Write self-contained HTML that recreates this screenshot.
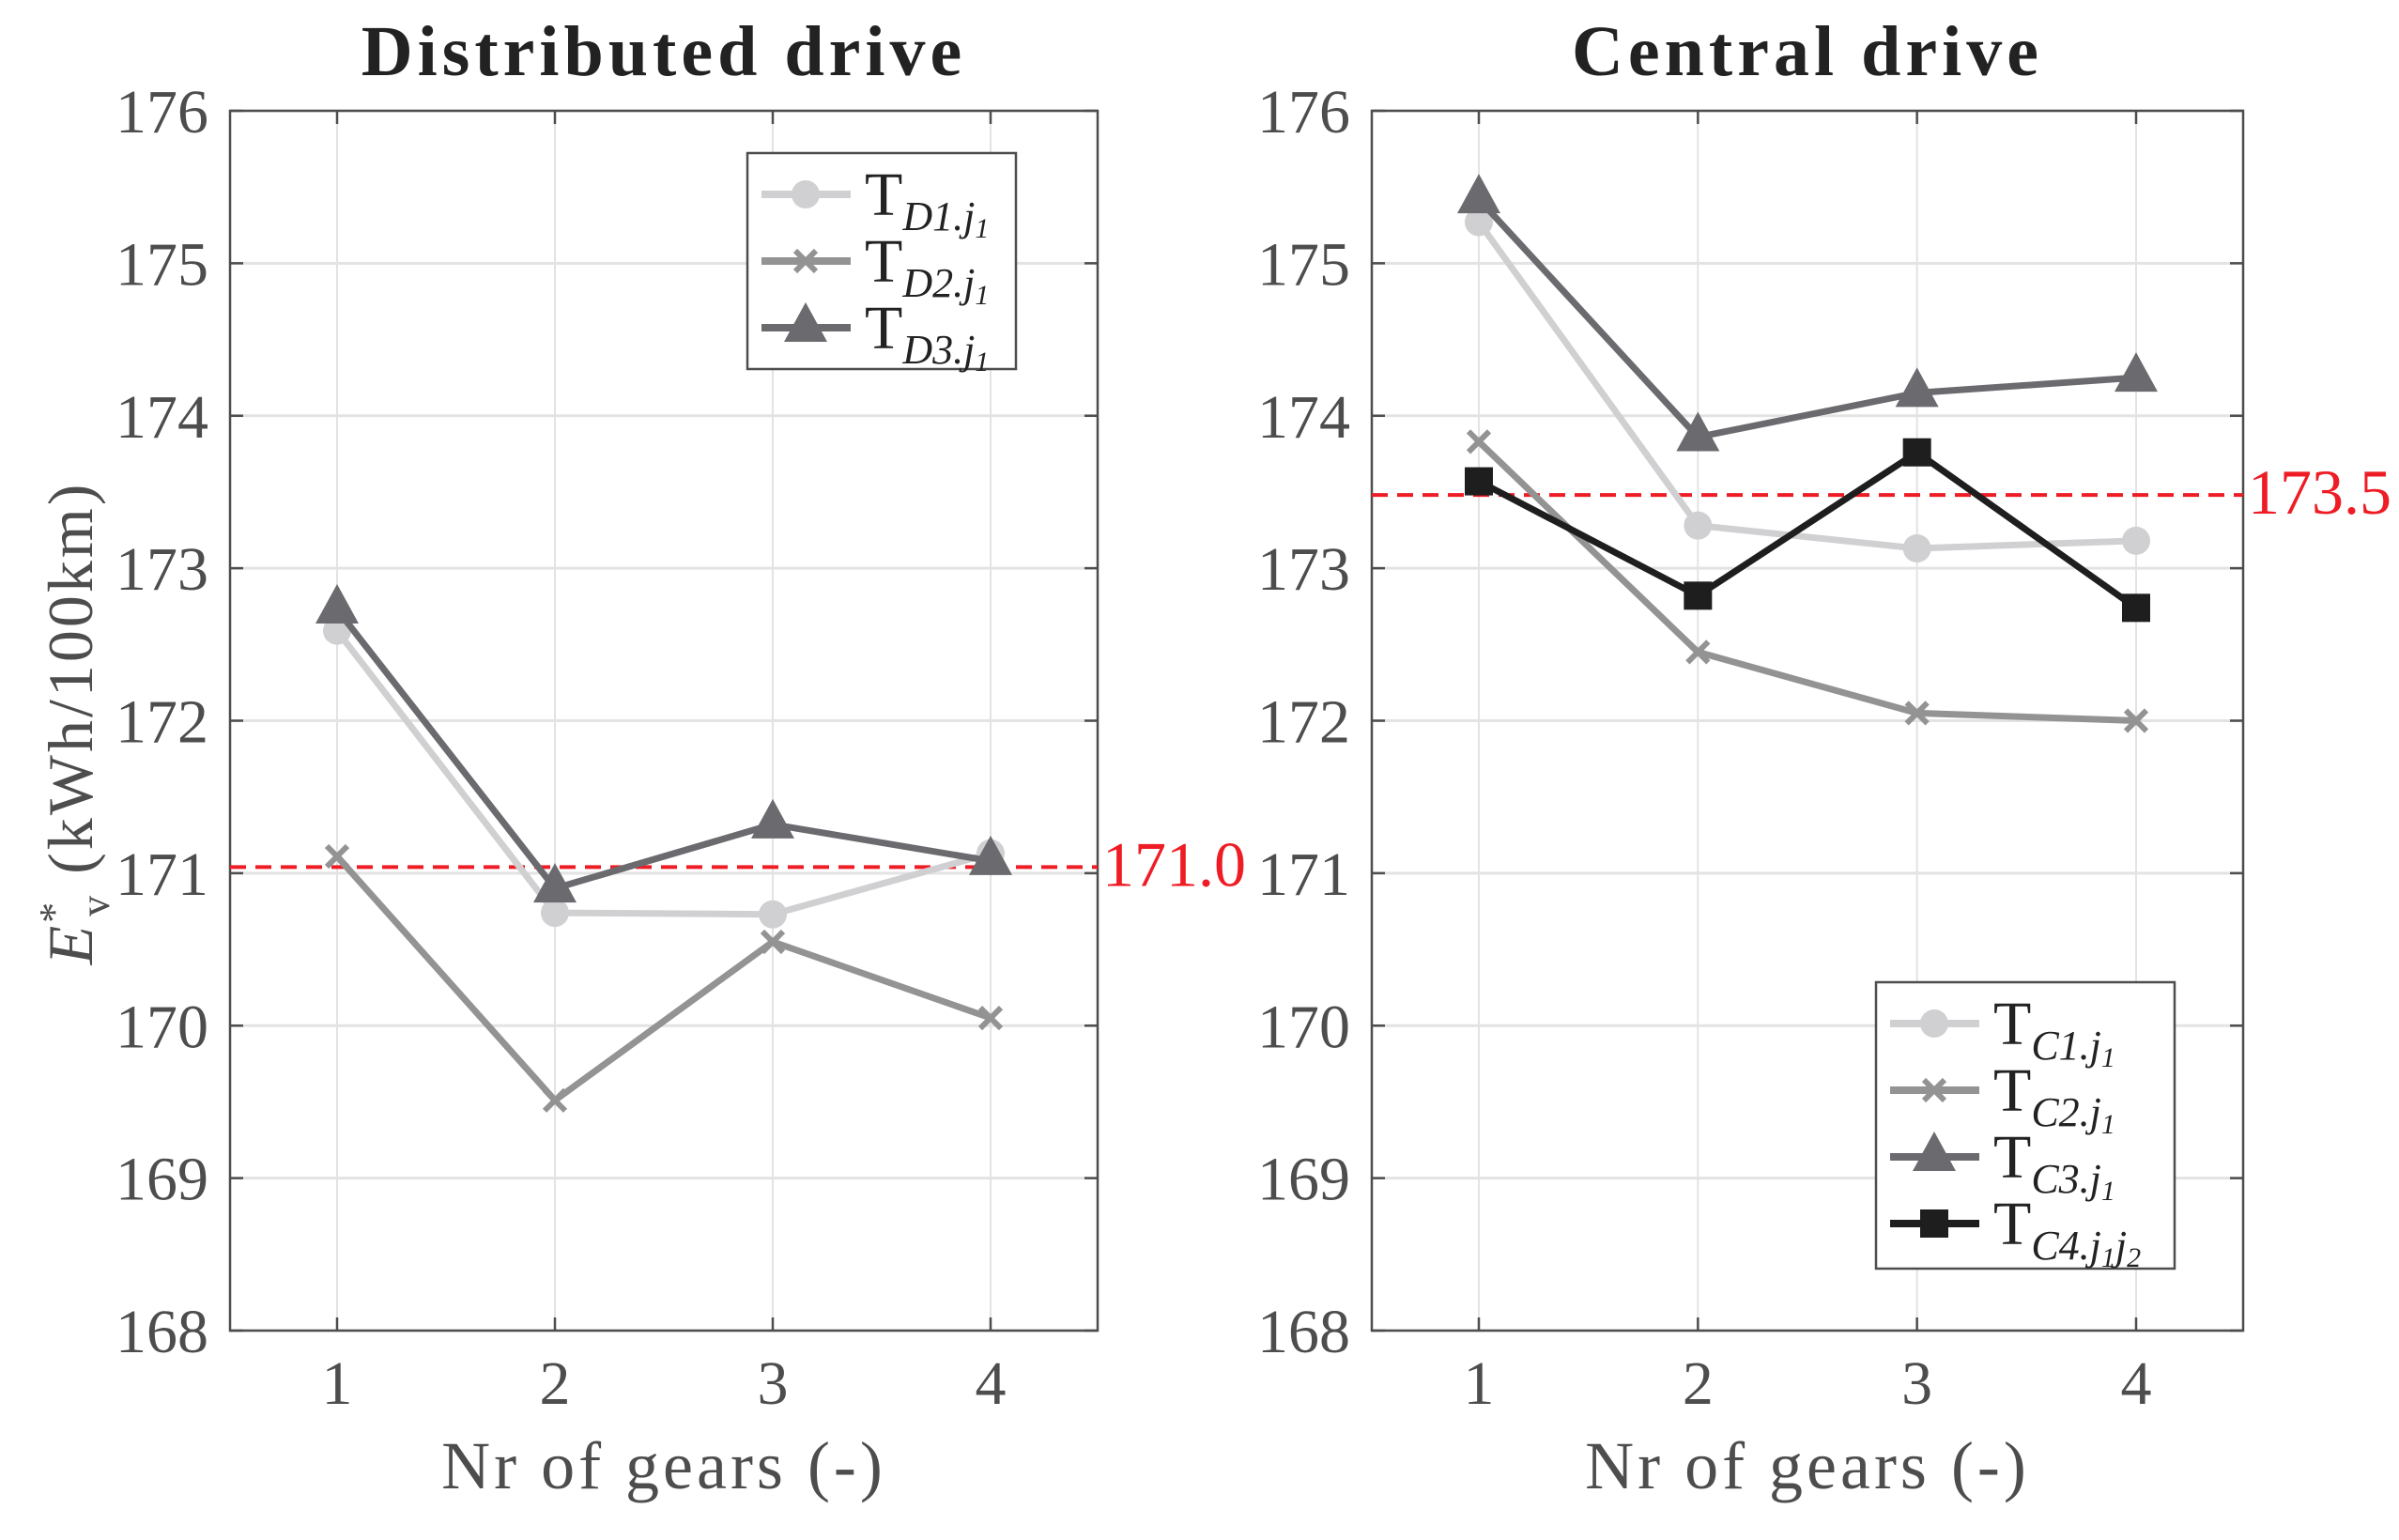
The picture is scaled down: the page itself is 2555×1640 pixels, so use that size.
<!DOCTYPE html>
<html><head><meta charset="utf-8"><style>
html,body{margin:0;padding:0;background:#fff;}
svg{display:block;font-family:"Liberation Serif","DejaVu Serif",serif;}
</style></head><body>
<svg id="chart" width="2555" height="1640" viewBox="0 0 2555 1640" xmlns="http://www.w3.org/2000/svg">
<g id="left"></g>
<g id="right"></g>
<text transform="translate(98,770) rotate(-90)" text-anchor="middle" font-size="68" letter-spacing="3" fill="#4d4d4d"><tspan font-style="italic">E</tspan><tspan font-size="44" dy="-26">*</tspan><tspan font-size="44" dx="-18" dy="44">v</tspan><tspan dy="-18"> (kWh/100km)</tspan></text>
</svg>
<script>
const gears = [1, 2, 3, 4];
const yTicks = [168, 169, 170, 171, 172, 173, 174, 175, 176];
const D1 = [172.59, 170.74, 170.73, 171.13];
const D2 = [171.11, 169.51, 170.55, 170.05];
const D3 = [172.73, 170.90, 171.32, 171.08];
const refD = [171.04];
const refDLabel = ["171.0"];
const C1 = [175.27, 173.28, 173.13, 173.18];
const C2 = [173.83, 172.45, 172.05, 172.00];
const C3 = [175.42, 173.86, 174.15, 174.25];
const C4 = [173.57, 172.82, 173.76, 172.74];
const refC = [173.48];
const refCLabel = ["173.5"];

const NS = "http://www.w3.org/2000/svg";
function mk(parent, tag, attrs, text) {
  const e = document.createElementNS(NS, tag);
  for (const k in attrs) e.setAttribute(k, attrs[k]);
  if (text !== undefined) e.textContent = text;
  parent.appendChild(e);
  return e;
}
const yTop = 118, yBot = 1417;
function yScale(v) { return yBot - (v - 168) / 8 * (yBot - yTop); }

function panel(g, x0, x1, title, series, ref, refLabel, legend) {
  const xs = v => x0 + 114 + (v - 1) * ((x1 - x0 - 228) / 3);
  yTicks.forEach(t => {
    const l = mk(g, "line", {x1: x0, x2: x1, y1: yScale(t), y2: yScale(t), stroke: "#e3e3e3", "stroke-width": 3});
    
    
    const tk = mk(g, "line", {x1: x0, x2: x0 + 14, y1: yScale(t), y2: yScale(t), stroke: "#4d4d4d", "stroke-width": 2.5});
    
    
    const tk2 = mk(g, "line", {x1: x1 - 14, x2: x1, y1: yScale(t), y2: yScale(t), stroke: "#4d4d4d", "stroke-width": 2.5});
    
    
    const lb = mk(g, "text", {x: x0 - 23, y: yScale(t) + 23, "text-anchor": "end", "font-size": 66, fill: "#4d4d4d"}, String(t));
    
    
  });
  gears.forEach(v => {
    const l = mk(g, "line", {x1: xs(v), x2: xs(v), y1: yTop, y2: yBot, stroke: "#e3e3e3", "stroke-width": 2});
    
    
    const tk = mk(g, "line", {x1: xs(v), x2: xs(v), y1: yBot - 14, y2: yBot, stroke: "#4d4d4d", "stroke-width": 2.5});
    
    
    const tk2 = mk(g, "line", {x1: xs(v), x2: xs(v), y1: yTop, y2: yTop + 14, stroke: "#4d4d4d", "stroke-width": 2.5});
    
    
    const lb = mk(g, "text", {x: xs(v), y: yBot + 78, "text-anchor": "middle", "font-size": 66, fill: "#4d4d4d"}, String(v));
    
    
  });
  const box = mk(g, "rect", {x: x0, y: yTop, width: x1 - x0, height: yBot - yTop, fill: "none", stroke: "#4d4d4d", "stroke-width": 2.5});
  
  
  const tt = mk(g, "text", {x: (x0 + x1) / 2, y: 80, "text-anchor": "middle", "font-size": 76, "letter-spacing": 5, "font-weight": "bold", fill: "#222"}, title);
  
  
  const xl = mk(g, "text", {x: (x0 + x1) / 2, y: 1585, "text-anchor": "middle", "font-size": 72, "letter-spacing": 4, fill: "#4d4d4d"}, "Nr of gears (-)");
  
  
  const rl = mk(g, "line", {x1: x0, x2: x1, y1: yScale(ref[0]), y2: yScale(ref[0]), stroke: "#ee1c24", "stroke-width": 4, "stroke-dasharray": "17 10"});
  
  
  const rt = mk(g, "text", {x: x1 + 5, y: yScale(ref[0]) + 20, "font-size": 68, fill: "#ee1c24"}, refLabel[0]);
  
  
  series.forEach(s => {
    const pts = s.data.map((v, i) => xs(gears[i]) + "," + yScale(v)).join(" ");
    const pl = mk(g, "polyline", {points: pts, fill: "none", stroke: s.color, "stroke-width": 7, "stroke-linejoin": "round"});
    
    
    s.data.forEach((v, i) => {
      const m = marker(g, s.marker, xs(gears[i]), yScale(v), s.color);
      
      
    });
  });
  const lg = mk(g, "g", {});
  
  
  const lr = mk(lg, "rect", {x: legend.x, y: legend.y, width: legend.w, height: legend.h, fill: "#fff", stroke: "#4d4d4d", "stroke-width": 2.5});
  
  
  series.forEach((s, i) => {
    const cy = legend.y + 44 + i * legend.step;
    const e = mk(lg, "g", {});
    
    
    mk(e, "line", {x1: legend.x + 15, x2: legend.x + 110, y1: cy, y2: cy, stroke: s.color, "stroke-width": 8});
    marker(e, s.marker, legend.x + 62, cy, s.color);
    const t = mk(e, "text", {x: legend.x + 125, y: cy + 22, "font-size": 66, fill: "#222"});
    mk(t, "tspan", {}, "T");
    mk(t, "tspan", {"font-size": 44, "font-style": "italic", dy: 16}, s.sub);
    if (s.sub2) mk(t, "tspan", {"font-size": 30, "font-style": "italic", dy: 8}, "1");
    if (s.sub3) { mk(t, "tspan", {"font-size": 44, "font-style": "italic", dy: -8}, "j"); mk(t, "tspan", {"font-size": 30, "font-style": "italic", dy: 8}, "2"); }
  });
}
function marker(g, type, x, y, c) {
  if (type === "o") return mk(g, "circle", {cx: x, cy: y, r: 15, fill: c});
  if (type === "x") {
    return mk(g, "path", {d: `M${x-11},${y-11}L${x+11},${y+11}M${x-11},${y+11}L${x+11},${y-11}`, stroke: c, "stroke-width": 6, fill: "none"});
  }
  if (type === "^") return mk(g, "polygon", {points: `${x},${y-27} ${x-23},${y+15} ${x+23},${y+15}`, fill: c});
  return mk(g, "rect", {x: x - 15, y: y - 15, width: 30, height: 30, fill: c});
}
panel(document.getElementById("left"), 245, 1169, "Distributed drive", [
  {name: "td1", data: D1, color: "#d0d0d2", marker: "o", sub: "D1.j", sub2: 1},
  {name: "td2", data: D2, color: "#939393", marker: "x", sub: "D2.j", sub2: 1},
  {name: "td3", data: D3, color: "#6b6b6f", marker: "^", sub: "D3.j", sub2: 1}
], refD, refDLabel, {x: 796, y: 163, w: 286, h: 230, step: 71});
panel(document.getElementById("right"), 1461, 2389, "Central drive", [
  {name: "tc1", data: C1, color: "#d0d0d2", marker: "o", sub: "C1.j", sub2: 1},
  {name: "tc2", data: C2, color: "#939393", marker: "x", sub: "C2.j", sub2: 1},
  {name: "tc3", data: C3, color: "#6b6b6f", marker: "^", sub: "C3.j", sub2: 1},
  {name: "tc4", data: C4, color: "#1e1e1e", marker: "s", sub: "C4.j", sub2: 1, sub3: 1}
], refC, refCLabel, {x: 1998, y: 1046, w: 318, h: 305, step: 71});
</script>
</body></html>
